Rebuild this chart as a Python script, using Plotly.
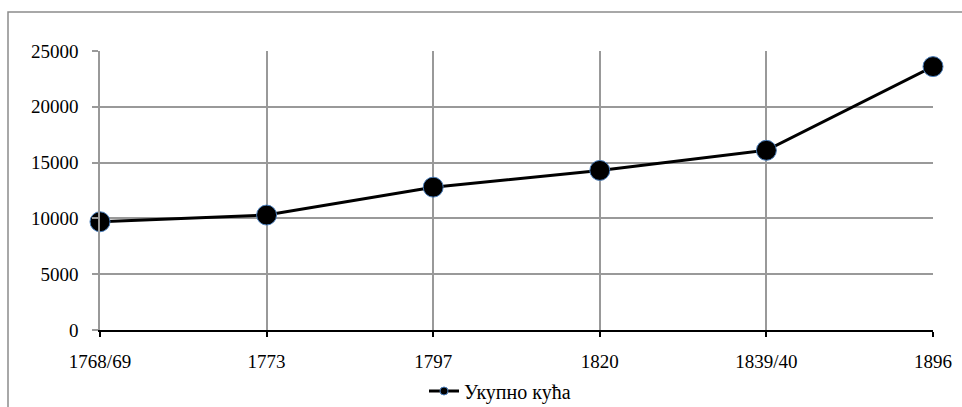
import plotly.graph_objects as go

categories = ["1768/69", "1773", "1797", "1820", "1839/40", "1896"]
values = [9700, 10300, 12800, 14300, 16100, 23600]
series_name = "Укупно кућа"

FONT = "Liberation Serif"

fig = go.Figure()
fig.add_trace(go.Scatter(
    x=categories, y=values, mode="lines+markers", showlegend=False,
    line=dict(color="black", width=3),
    marker=dict(size=20, color="black", line=dict(color="#4a7ebb", width=1)),
    cliponaxis=False,
))
fig.add_trace(go.Scatter(
    x=[None], y=[None], mode="lines+markers", name=series_name,
    line=dict(color="black", width=3),
    marker=dict(size=8, color="black", line=dict(color="#4a7ebb", width=1)),
))

W, H = 962, 407
L, R, T, B = 100, 29, 51, 77
pw, ph = W - L - R, H - T - B

def px_x(x):
    return (x - L) / pw

def px_y(y):
    return (H - B - y) / ph

fig.add_shape(type="rect", xref="paper", yref="paper",
              x0=px_x(8), x1=px_x(980), y0=px_y(420), y1=px_y(12),
              line=dict(color="#8c8c8c", width=1.5), fillcolor="rgba(0,0,0,0)",
              layer="below")

fig.update_layout(
    width=W, height=H,
    margin=dict(l=L, r=R, t=T, b=B, autoexpand=False),
    paper_bgcolor="white", plot_bgcolor="white",
    font=dict(family=FONT, size=19, color="black"),
    xaxis=dict(
        type="category", range=[0, len(categories) - 1],
        showgrid=True, gridcolor="#999999", gridwidth=1.5,
        showline=True, linecolor="black", linewidth=2,
        ticks="outside", tickcolor="black", ticklen=5, tickwidth=2,
        tickfont=dict(family=FONT, size=19),
        ticklabelstandoff=8,
        zeroline=False, automargin=False,
    ),
    yaxis=dict(
        range=[0, 25000], dtick=5000, tickformat="d",
        showgrid=True, gridcolor="#999999", gridwidth=1.5,
        showline=True, linecolor="#999999", linewidth=1.5,
        ticks="outside", tickcolor="#999999", ticklen=6, tickwidth=1.5,
        tickfont=dict(family=FONT, size=19),
        ticklabelstandoff=10,
        zeroline=False, automargin=False,
    ),
    legend=dict(orientation="h", x=px_x(500), xanchor="center", y=px_y(391), yanchor="middle",
                font=dict(family=FONT, size=20), bgcolor="rgba(0,0,0,0)"),
)

fig.write_html("out.html", config={"displayModeBar": False},
               post_script="document.body.style.margin='0';document.body.style.padding='0';")
